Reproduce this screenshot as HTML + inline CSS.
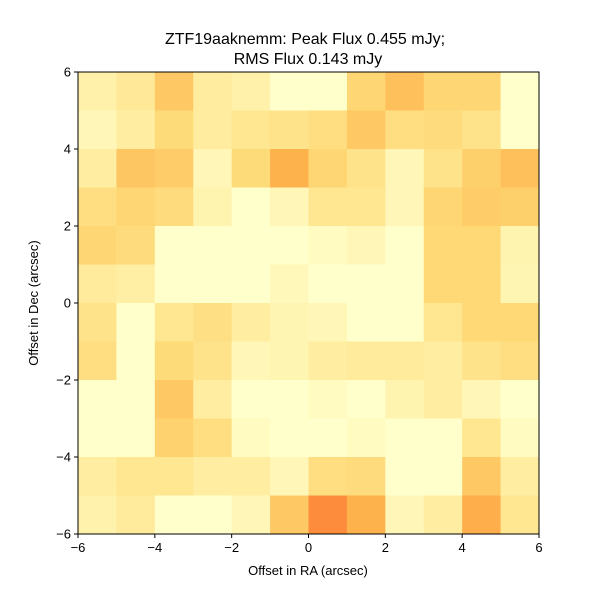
<!DOCTYPE html>
<html><head><meta charset="utf-8"><style>
body{margin:0;background:#fff;font-family:"Liberation Sans","DejaVu Sans",sans-serif;}
svg text{font-family:"Liberation Sans","DejaVu Sans",sans-serif;fill:#000;}
</style></head><body>
<svg id="chart" width="600" height="600" viewBox="0 0 600 600" xmlns="http://www.w3.org/2000/svg">
<rect width="600" height="600" fill="#fff"/>
<text x="305" y="44" font-size="16" text-anchor="middle">ZTF19aaknemm: Peak Flux 0.455 mJy;</text>
<text x="308" y="64" font-size="16" text-anchor="middle">RMS Flux 0.143 mJy</text>
<g id="cells"></g>
<g id="axes"></g>
<text x="308" y="575" font-size="13" text-anchor="middle">Offset in RA (arcsec)</text>
<text x="38" y="303" font-size="13" text-anchor="middle" transform="rotate(-90 38 303)">Offset in Dec (arcsec)</text>
</svg>
<script>
// rows from top (Dec 6) to bottom (Dec -6), columns from RA -6 to 6; normalized colormap values
const row0=[.10,.15,.30,.13,.10,0,0,.26,.33,.26,.26,0];
const row1=[.06,.12,.24,.13,.17,.19,.22,.30,.22,.23,.19,0];
const row2=[.12,.31,.29,.06,.24,.375,.26,.19,.06,.19,.28,.33];
const row3=[.22,.26,.23,.08,0,.06,.17,.17,.06,.26,.29,.28];
const row4=[.26,.23,0,0,0,0,.03,.06,0,.25,.25,.08];
const row5=[.14,.11,0,0,0,.05,0,0,0,.25,.25,.07];
const row6=[.19,0,.17,.21,.12,.07,.06,0,0,.17,.25,.25];
const row7=[.22,0,.24,.19,.06,.07,.12,.14,.14,.12,.19,.22];
const row8=[0,0,.30,.12,0,0,.03,0,.08,.12,.06,0];
const row9=[0,0,.27,.22,.03,0,0,.03,0,0,.17,.03];
const row10=[.12,.17,.17,.12,.12,.06,.22,.23,0,0,.30,.12];
const row11=[.09,.14,0,0,.06,.30,.50,.375,.06,.12,.39,.17];
const gridRows=[row0,row1,row2,row3,row4,row5,row6,row7,row8,row9,row10,row11];
const xTicks=[-6,-4,-2,0,2,4,6];
const yTicks=[-6,-4,-2,0,2,4,6];
const X0=78,X1=539,Y0=72,Y1=534;
const xs=v=>X0+(v+6)/12*(X1-X0);
const ys=v=>Y1-(v+6)/12*(Y1-Y0);
const stops=[[255,255,204],[255,237,160],[254,217,118],[254,178,76],[253,141,60],[252,78,42],[227,26,28],[189,0,38],[128,0,38]];
function cmap(t){t=Math.max(0,Math.min(1,t));const p=t*8,i=Math.min(7,Math.floor(p)),f=p-i;const a=stops[i],b=stops[i+1];
return 'rgb('+a.map((c,k)=>Math.round(c+(b[k]-c)*f)).join(',')+')';}
const NS='http://www.w3.org/2000/svg';
const cg=document.getElementById('cells');
gridRows.forEach((row,r)=>row.forEach((v,c)=>{
  const x=xs(-6+c),y=ys(6-r),w=xs(-5+c)-x,h=ys(5-r)-y;
  const el=document.createElementNS(NS,'rect');
  el.setAttribute('x',x);el.setAttribute('y',y);el.setAttribute('width',w+0.5);el.setAttribute('height',h+0.5);
  el.setAttribute('fill',cmap(v));
  
  
  cg.appendChild(el);
}));
const ag=document.getElementById('axes');
const frame=document.createElementNS(NS,'rect');
frame.setAttribute('x',X0);frame.setAttribute('y',Y0);frame.setAttribute('width',X1-X0);frame.setAttribute('height',Y1-Y0);
frame.setAttribute('fill','none');frame.setAttribute('stroke','#000');frame.setAttribute('stroke-width','1');


ag.appendChild(frame);
xTicks.forEach(v=>{
  const x=xs(v);
  const l=document.createElementNS(NS,'line');
  l.setAttribute('x1',x);l.setAttribute('x2',x);l.setAttribute('y1',Y1);l.setAttribute('y2',Y1+4);l.setAttribute('stroke','#000');
  
  
  ag.appendChild(l);
  const t=document.createElementNS(NS,'text');
  t.setAttribute('x',x);t.setAttribute('y',Y1+18);t.setAttribute('font-size','13');t.setAttribute('text-anchor','middle');
  t.textContent=v<0?'\u2212'+Math.abs(v):String(v);
  
  
  ag.appendChild(t);
});
yTicks.forEach(v=>{
  const y=ys(v);
  const l=document.createElementNS(NS,'line');
  l.setAttribute('x1',X0-4);l.setAttribute('x2',X0);l.setAttribute('y1',y);l.setAttribute('y2',y);l.setAttribute('stroke','#000');
  
  
  ag.appendChild(l);
  const t=document.createElementNS(NS,'text');
  t.setAttribute('x',X0-7);t.setAttribute('y',y+4.5);t.setAttribute('font-size','13');t.setAttribute('text-anchor','end');
  t.textContent=v<0?'\u2212'+Math.abs(v):String(v);
  
  
  ag.appendChild(t);
});
</script>
</body></html>
